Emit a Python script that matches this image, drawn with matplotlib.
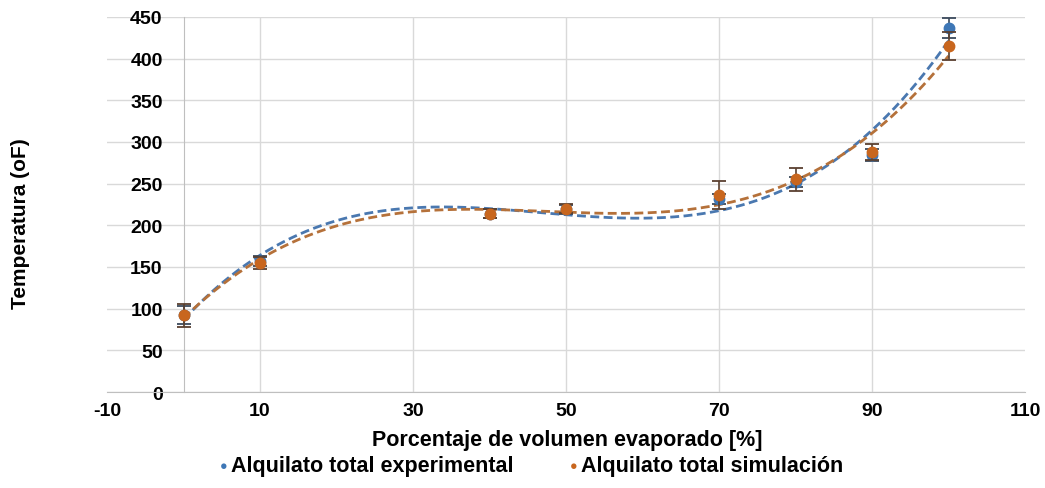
import numpy as np
import matplotlib.pyplot as plt

plt.rcParams['font.family'] = ['Liberation Sans', 'DejaVu Sans']
plt.rcParams['font.weight'] = 'bold'
plt.rcParams['axes.unicode_minus'] = False

# volumen evaporado [%]
x = [0, 10, 40, 50, 70, 80, 90, 100]
# temperaturas [oF]
exp_t = [92, 157, 214, 219, 231, 252, 284, 437]
sim_t = [92, 155, 214, 220, 236, 255, 288, 415]
exp_err = [11, 6, 5, 5, 6, 6, 7, 12]
sim_err = [14, 7, 5, 5, 17, 14, 10, 17]

x_ticks = [-10, 10, 30, 50, 70, 90, 110]
y_ticks = [0, 50, 100, 150, 200, 250, 300, 350, 400, 450]

blue = '#3E77B6'
orange = '#C8661E'
blue_line = '#4A78B0'
orange_line = '#B5713A'

fig = plt.figure(figsize=(10.45, 4.89), dpi=100)
ax = fig.add_axes([0.1024, 0.1963, 0.8785, 0.767])

# tendencias polinomicas (orden 3)
xs = np.linspace(0, 100, 300)
for yv, c in [(exp_t, blue_line), (sim_t, orange_line)]:
    p = np.polyfit(x, yv, 3)
    ax.plot(xs, np.polyval(p, xs), color=c, lw=2.0, ls=(0, (3.2, 1.6)), zorder=3)

ax.errorbar(x, exp_t, yerr=exp_err, fmt='o', color=blue, ms=7.5,
            ecolor='#3b4a5c', elinewidth=1.2, capsize=5, capthick=1.3, zorder=4)
ax.errorbar(x, sim_t, yerr=sim_err, fmt='o', color=orange, ms=7.5,
            ecolor='#5a4030', elinewidth=1.2, capsize=5, capthick=1.3, zorder=5)

ax.set_xlim(-10, 110)
ax.set_ylim(0, 450)
ax.set_xticks(x_ticks)
ax.set_yticks(y_ticks)
ax.tick_params(length=0, labelsize=14)
ax.tick_params(axis='y', pad=15)
ax.tick_params(axis='x', pad=7)

ax.spines['left'].set_position(('data', 0))
for s in ['top', 'right']:
    ax.spines[s].set_visible(False)
ax.spines['left'].set_color('#BFBFBF')
ax.spines['bottom'].set_color('#BFBFBF')

ax.grid(axis='y', color='#D9D9D9', lw=1)
for v in [10, 30, 50, 70, 90]:
    ax.axvline(v, color='#D9D9D9', lw=1, zorder=0)
ax.set_axisbelow(True)

fig.text(0.02, 0.542, 'Temperatura (oF)', rotation=90, ha='center', va='center',
         fontsize=15)
fig.text(0.543, 0.10, 'Porcentaje de volumen evaporado [%]', ha='center', va='center',
         fontsize=15.5)

# leyenda
fig.text(0.214, 0.045, '\u25cf', color=blue, fontsize=9, ha='center', va='center')
fig.text(0.221, 0.045, 'Alquilato total experimental', ha='left', va='center',
         fontsize=15.5)
fig.text(0.549, 0.045, '\u25cf', color=orange, fontsize=9, ha='center', va='center')
fig.text(0.556, 0.045, 'Alquilato total simulación', ha='left', va='center',
         fontsize=15.5)

fig.savefig('out.png', dpi=100)
